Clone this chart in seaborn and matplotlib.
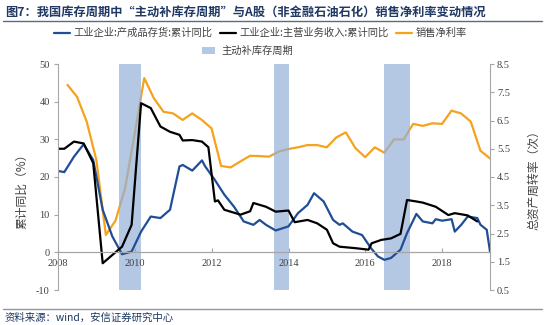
import matplotlib
matplotlib.use("Agg")
import matplotlib.pyplot as plt
import pandas as pd
import seaborn as sns
from matplotlib.lines import Line2D
from matplotlib.patches import Patch

# ---------------- data ----------------
inv_dates = ["2008-01", "2008-03", "2008-06", "2008-09", "2008-12", "2009-03", "2009-06",
             "2009-09", "2009-12", "2010-03", "2010-06", "2010-09", "2010-12", "2011-03",
             "2011-04", "2011-07", "2011-10", "2011-11", "2012-02", "2012-05", "2012-08",
             "2012-11", "2013-02", "2013-04", "2013-06", "2013-09", "2014-01", "2014-04",
             "2014-07", "2014-09", "2014-12", "2015-03", "2015-05", "2015-06", "2015-09",
             "2015-12", "2016-03", "2016-05", "2016-07", "2016-09", "2016-12", "2017-02",
             "2017-05", "2017-07", "2017-10", "2017-11", "2018-01", "2018-04", "2018-05",
             "2018-07", "2018-09", "2018-12", "2019-01", "2019-03", "2019-04"]
inv_vals = [21.6, 21.3, 25.4, 28.7, 24.5, 11.3, 4.2,
            -0.5, 0.2, 5.5, 9.5, 9.1, 11.3, 22.8,
            23.2, 21.7, 24.4, 22.8, 19.2, 15.3, 12.1,
            8.2, 7.3, 8.6, 7.3, 5.8, 6.9, 10.4,
            12.6, 15.7, 13.5, 8.6, 7.3, 7.7, 5.5,
            4.6, 0.9, -1.1, -2.0, -1.5, 0.7, 5.1,
            10.2, 8.2, 7.7, 8.8, 8.4, 8.8, 5.5,
            7.3, 9.5, 9.1, 7.3, 6.0, 0.2]

rev_dates = ["2008-01", "2008-03", "2008-06", "2008-09", "2008-12", "2009-03", "2009-09",
             "2009-12", "2010-03", "2010-06", "2010-09", "2010-12", "2011-03", "2011-04",
             "2011-07", "2011-10", "2011-12", "2012-02", "2012-03", "2012-05", "2012-10",
             "2013-01", "2013-02", "2013-06", "2013-09", "2014-01", "2014-03", "2014-07",
             "2014-10", "2015-01", "2015-03", "2015-05", "2015-10", "2016-02", "2016-03",
             "2016-06", "2016-09", "2016-12", "2017-02", "2017-05", "2017-07", "2017-11",
             "2018-03", "2018-05", "2018-09", "2018-12"]
rev_vals = [27.5, 27.5, 29.4, 28.9, 23.7, -2.9, 1.5,
            7.3, 39.6, 38.3, 33.4, 32.0, 31.2, 29.7,
            29.8, 29.4, 27.9, 13.5, 13.8, 11.3, 10.0,
            10.9, 13.1, 12.1, 10.8, 11.1, 8.0, 8.6,
            7.7, 6.0, 2.4, 1.5, 1.1, 0.7, 2.4,
            3.3, 3.7, 4.9, 13.9, 13.5, 13.2, 12.1,
            9.9, 10.4, 9.8, 8.2]

npm_dates = ["2008-03-31", "2008-06-30", "2008-09-30", "2008-12-31",
             "2009-03-31", "2009-06-30", "2009-09-30", "2009-12-31",
             "2010-03-31", "2010-06-30", "2010-09-30", "2010-12-31",
             "2011-03-31", "2011-06-30", "2011-09-30", "2011-12-31",
             "2012-03-31", "2012-06-30", "2012-09-30", "2012-12-31",
             "2013-03-31", "2013-06-30", "2013-09-30", "2013-12-31",
             "2014-03-31", "2014-06-30", "2014-09-30", "2014-12-31",
             "2015-03-31", "2015-06-30", "2015-09-30", "2015-12-31",
             "2016-03-31", "2016-06-30", "2016-09-30", "2016-12-31",
             "2017-03-31", "2017-06-30", "2017-09-30", "2017-12-31",
             "2018-03-31", "2018-06-30", "2018-09-30", "2018-12-31",
             "2019-03-31"]
npm_vals = [7.76, 7.34, 6.46, 5.10,
            2.45, 2.95, 4.10, 6.05,
            8.00, 7.29, 6.81, 6.75,
            6.52, 6.75, 6.52, 6.22,
            4.89, 4.84, 5.05, 5.25,
            5.24, 5.22, 5.40, 5.49,
            5.55, 5.63, 5.63, 5.55,
            5.90, 6.08, 5.52, 5.20,
            5.55, 5.36, 5.83, 5.83,
            6.38, 6.31, 6.40, 6.38,
            6.85, 6.75, 6.46, 5.43,
            5.16]

span_starts = ["2009-08-05", "2013-08-15", "2016-07-01"]
span_ends = ["2010-03-05", "2014-01-01", "2017-02-25"]

left_ticks = [-10, 0, 10, 20, 30, 40, 50]
right_ticks = [0.5, 1.5, 2.5, 3.5, 4.5, 5.5, 6.5, 7.5, 8.5]
year_ticks = [2008, 2010, 2012, 2014, 2016, 2018]

series_names = ["工业企业:产成品存货:累计同比", "工业企业:主营业务收入:累计同比", "销售净利率"]
span_name = "主动补库存周期"
title = "图7：我国库存周期中“主动补库存周期”与A股（非金融石油石化）销售净利率变动情况"
source = "资料来源：wind，安信证券研究中心"
left_label = "累计同比（%）"
right_label = "总资产周转率（次）"

# ---------------- style ----------------
sns.set_theme(style="white")
plt.rcParams["font.family"] = ["Noto Sans CJK SC", "DejaVu Sans"]

C_BLUE = "#1f4e96"
C_BLACK = "#000000"
C_ORANGE = "#f5a21c"
C_SPAN = "#94b0d8"
C_GRID = "#a6a6a6"
C_TXT = "#404040"
C_TITLE = "#1f3864"
SERIF = ["Liberation Serif", "DejaVu Serif"]

inv = pd.DataFrame({"date": pd.to_datetime(inv_dates), "val": inv_vals})
rev = pd.DataFrame({"date": pd.to_datetime(rev_dates), "val": rev_vals})
npm = pd.DataFrame({"date": pd.to_datetime(npm_dates), "val": npm_vals})

fig = plt.figure(figsize=(5.5, 3.25), dpi=100)
W, H = 550, 325
ax = fig.add_axes([58 / W, 1 - 290 / H, (490 - 58) / W, (290 - 64) / H])
ax2 = ax.twinx()

# right-scale axis: orange line + shading
sns.lineplot(data=npm, x="date", y="val", ax=ax, color=C_ORANGE, lw=1.6, legend=False, zorder=2)
for s, e in zip(span_starts, span_ends):
    ax.axvspan(pd.Timestamp(s), pd.Timestamp(e), color=C_SPAN, alpha=0.7, lw=0, zorder=3)

# left-scale axis: blue and black lines
sns.lineplot(data=inv, x="date", y="val", ax=ax2, color=C_BLUE, lw=1.6, legend=False)
sns.lineplot(data=rev, x="date", y="val", ax=ax2, color=C_BLACK, lw=1.6, legend=False)

ax.set_xlim(pd.Timestamp("2008-01-01"), pd.Timestamp("2019-04-01"))
ax.set_ylim(0.5, 8.5)
ax2.set_ylim(-10, 50)

# right axis on ax
ax.yaxis.tick_right()
ax.yaxis.set_label_position("right")
ax.set_yticks(right_ticks)
ax.set_yticklabels([f"{v:.1f}" for v in right_ticks])
ax.tick_params(axis="y", which="both", right=True, left=False, direction="out",
               length=3, width=0.8, color=C_GRID, pad=2, labelsize=7.5, labelcolor=C_TXT)
ax.set_ylabel(right_label, fontsize=8.5, color=C_TXT, rotation=90)
ax.yaxis.set_label_coords((527 - 58) / 432, 0.5)
for sp in ["top", "bottom", "left"]:
    ax.spines[sp].set_visible(False)
ax.spines["right"].set_color(C_GRID)
ax.spines["right"].set_linewidth(0.8)
ax.xaxis.set_visible(False)

# left axis on ax2
ax2.yaxis.tick_left()
ax2.yaxis.set_label_position("left")
ax2.set_yticks(left_ticks)
ax2.set_yticklabels([str(v) for v in left_ticks])
ax2.tick_params(axis="y", which="both", left=True, right=False, direction="out",
                length=3, width=0.8, color=C_GRID, pad=3, labelsize=7.5, labelcolor=C_TXT)
ax2.set_ylabel(left_label, fontsize=8.5, color=C_TXT)
ax2.yaxis.set_label_coords((28 - 58) / 432, (290 - 188) / 226)
for sp in ["top", "right"]:
    ax2.spines[sp].set_visible(False)
ax2.spines["left"].set_color(C_GRID)
ax2.spines["left"].set_linewidth(0.8)

# x axis at zero line
ax2.xaxis.set_visible(True)
ax2.spines["bottom"].set_visible(True)
ax2.spines["bottom"].set_position(("data", 0))
ax2.spines["bottom"].set_color(C_GRID)
ax2.spines["bottom"].set_linewidth(0.9)
ax2.set_xticks([pd.Timestamp(f"{y}-01-01") for y in year_ticks])
ax2.set_xticklabels([str(y) for y in year_ticks])
ax2.tick_params(axis="x", bottom=True, direction="in", length=3, width=0.8,
                color=C_GRID, pad=4.5, labelsize=7.5, labelcolor=C_TXT)
ax2.set_xlabel("")
ax.set_xlabel("")

for lab in ax.get_yticklabels() + ax2.get_yticklabels() + ax2.get_xticklabels():
    lab.set_fontfamily(SERIF)

# legends
h_lines = [Line2D([], [], color=c, lw=1.6) for c in (C_BLUE, C_BLACK, C_ORANGE)]
leg1 = fig.legend(h_lines, series_names, loc="center", bbox_to_anchor=(0.473, 1 - 33 / H),
                  ncol=3, frameon=False, fontsize=7.4, handlelength=1.6, handletextpad=0.3,
                  columnspacing=0.7, labelcolor=C_TXT)
leg2 = fig.legend([Patch(facecolor="#b4c8e4", edgecolor="none")], [span_name], loc="center",
                  bbox_to_anchor=(0.45, 1 - 51 / H), frameon=False, fontsize=7.4,
                  handlelength=1.3, handleheight=0.6, handletextpad=0.6, labelcolor=C_TXT)

# title, rules, source
fig.text(5 / W, 1 - 12 / H, title, fontsize=8.8, fontweight="bold", color=C_TITLE,
         ha="left", va="center")
fig.add_artist(Line2D([0.005, 0.985], [1 - 21 / H, 1 - 21 / H], color="#5a6b85", lw=1.0))
fig.add_artist(Line2D([0.005, 0.985], [1 - 309 / H, 1 - 309 / H], color="#8a96a8", lw=1.0))
fig.text(5 / W, 1 - 318 / H, source, fontsize=7.5, color=C_TITLE, ha="left", va="center",
         style="italic")

fig.savefig("out.png", dpi=100)
